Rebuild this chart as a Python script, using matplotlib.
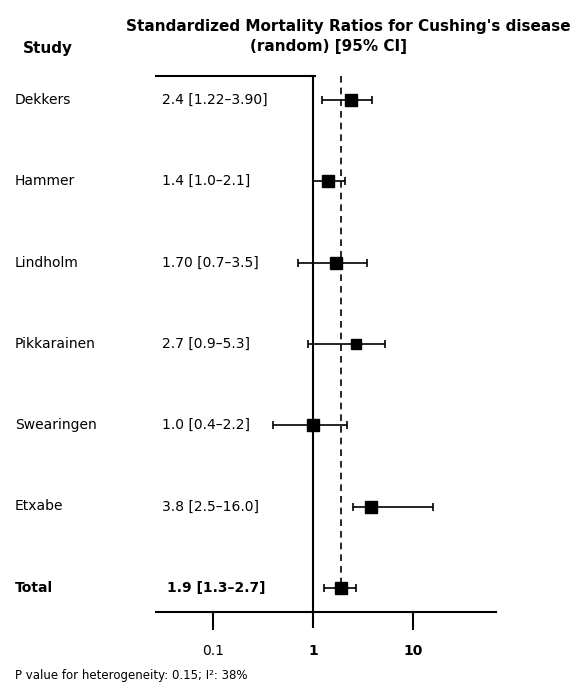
import matplotlib
matplotlib.use("Agg")
import matplotlib.pyplot as plt
import numpy as np

plt.rcParams['font.family'] = ['DejaVu Sans']

studies = ["Dekkers", "Hammer", "Lindholm", "Pikkarainen", "Swearingen", "Etxabe", "Total"]
smr = [2.4, 1.4, 1.70, 2.7, 1.0, 3.8, 1.9]
lo = [1.22, 1.0, 0.7, 0.9, 0.4, 2.5, 1.3]
hi = [3.90, 2.1, 3.5, 5.3, 2.2, 16.0, 2.7]
labels = ["2.4 [1.22–3.90]", "1.4 [1.0–2.1]", "1.70 [0.7–3.5]", "2.7 [0.9–5.3]",
          "1.0 [0.4–2.2]", "3.8 [2.5–16.0]", "1.9 [1.3–2.7]"]
marker_sizes = [9, 8, 8, 7, 8, 8, 8]
xticks = [0.1, 1, 10]
xticklabels = ["0.1", "1", "10"]
footer = "P value for heterogeneity: 0.15; I²: 38%"

W, H = 581, 684
fig = plt.figure(figsize=(W/100, H/100), dpi=100)
ax = fig.add_axes([155/W, 0, 342/W, 1])
xmin, xmax = 10**((155-313)/100), 10**((497-313)/100)
ax.set_xscale('log')
ax.set_xlim(xmin, xmax)
ax.set_ylim(H, 0)
ax.axis('off')

row_y = [100 + 81.3*i for i in range(len(studies))]

# reference lines
ax.plot([1, 1], [76, 628], color='black', lw=1.5, solid_capstyle='butt')
ax.plot([smr[-1], smr[-1]], [76, row_y[-1]], color='black', lw=1.2, ls=(0, (4, 3)))
# top line
ax.plot([xmin, 1.05], [76, 76], color='black', lw=1.5)
# bottom axis line and ticks
ax.plot([xmin, xmax], [612, 612], color='black', lw=1.5)
for t, tl in zip(xticks, xticklabels):
    if t != 1:
        ax.plot([t, t], [612, 629], color='black', lw=1.5)
    ax.text(t, 651, tl, ha='center', va='center', fontsize=10,
            fontweight='bold' if t != 0.1 else 'normal')

for i, (s, m, l, h, lab, ms) in enumerate(zip(studies, smr, lo, hi, labels, marker_sizes)):
    y = row_y[i]
    ax.errorbar([m], [y], xerr=[[m - l], [h - m]], fmt='s', color='black',
                ms=ms, lw=1.2, capsize=3, capthick=1.2)
    bold = (s == "Total")
    fig.text(15/W, 1 - y/H, s, ha='left', va='center', fontsize=10,
             fontweight='bold' if bold else 'normal')
    fig.text((167 if bold else 162)/W, 1 - y/H, lab, ha='left', va='center', fontsize=10,
             fontweight='bold' if bold else 'normal')

fig.text(48/W, 1 - 48/H, "Study", ha='center', va='center', fontsize=11, fontweight='bold')
fig.text(348/W, 1 - 26/H, "Standardized Mortality Ratios for Cushing's disease",
         ha='center', va='center', fontsize=11, fontweight='bold')
fig.text(328/W, 1 - 46/H, "(random) [95% CI]", ha='center', va='center',
         fontsize=11, fontweight='bold')
fig.text(15/W, 1 - 676/H, footer, ha='left', va='center', fontsize=8.5)

fig.savefig("out.png", dpi=100)
